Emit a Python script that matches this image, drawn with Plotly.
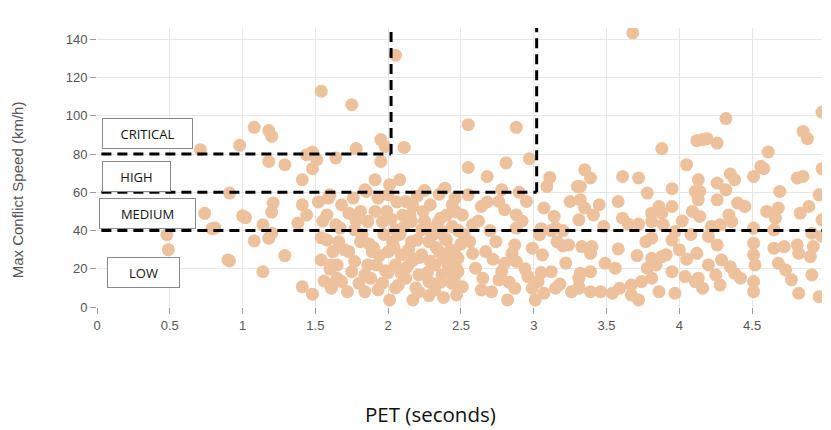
import plotly.graph_objects as go

# ---------------------------------------------------------------------------
# data (PET in seconds, max conflict speed in km/h)
# ---------------------------------------------------------------------------
pet_low_range = [0.71, 0.74, 0.79, 0.48, 0.49, 0.90, 1.00, 0.81,
                 1.54, 1.08, 1.18, 1.20, 0.98, 1.18, 1.29, 1.48, 1.44, 1.51,
                 1.48, 1.41, 1.64, 0.91, 1.21, 1.20, 1.41, 1.44, 1.38, 1.02,
                 1.14, 1.08, 1.18, 1.20, 0.91, 1.29, 1.14, 1.41, 1.48, 1.54,
                 1.56, 1.61, 1.62, 1.59, 1.58, 1.64, 1.54, 1.61,
                 1.52, 1.55, 1.58, 1.60, 1.62]
speed_low_range = [82.3, 49.0, 41.0, 37.8, 30.0, 24.6, 47.7, 41.4,
                   112.9, 94.0, 92.3, 89.3, 84.6, 76.2, 74.5, 81.1, 79.7, 77.1,
                   72.4, 66.6, 78.0, 59.6, 54.4, 49.7, 53.5, 48.2, 43.9, 46.8,
                   43.0, 34.6, 36.0, 38.6, 24.1, 26.9, 18.5, 10.6, 6.7, 24.6,
                   13.6, 9.8, 29.0, 57.0, 48.2, 43.0, 36.2, 22.0,
                   55.0, 45.0, 35.0, 20.0, 12.0]

pet_mid_range = [2.05, 1.75, 1.78, 1.95, 1.98, 2.11, 1.95, 1.91, 2.08, 2.01,
                 2.39, 1.84, 1.68, 1.76, 1.85, 1.93, 2.00, 2.12, 2.17, 2.29,
                 2.44, 1.73, 1.81, 1.91, 1.99, 1.86, 1.96, 2.16, 2.36, 1.67,
                 1.77, 2.05, 2.23, 2.44, 1.66, 1.81, 2.03, 2.16, 2.28, 2.39,
                 1.73, 1.89, 2.00, 2.09, 2.23, 2.35, 2.46, 1.65, 1.77, 1.86,
                 2.05, 2.16, 2.32, 2.41, 1.75, 1.84, 2.09, 2.21, 2.37, 1.68,
                 1.80, 1.96, 2.07, 2.28, 2.44, 1.84, 2.01, 2.17, 2.21, 2.32,
                 2.47, 2.25, 2.30, 2.33, 2.38, 2.42, 2.45, 2.40, 2.48, 2.27,
                 2.31, 2.12, 2.14, 2.08, 2.10, 2.20, 2.25, 2.35, 2.02, 1.97,
                 1.92, 1.88, 1.82, 1.78, 1.70, 1.65, 1.72, 2.05, 2.50, 2.46,
                 2.38, 2.28, 2.20, 2.00, 1.60, 1.90, 2.18, 2.36,
                 2.22, 2.26, 2.34, 2.43, 2.13, 2.04, 1.94, 1.87, 2.19, 2.29,
                 2.40, 2.11, 1.98, 2.24, 2.36, 2.47, 1.93, 2.06, 2.15, 2.31]
speed_mid_range = [131.8, 105.9, 82.9, 87.6, 84.0, 83.5, 76.2, 66.6, 66.6, 64.0,
                   62.2, 61.3, 53.5, 57.0, 60.5, 57.0, 58.7, 55.2, 52.6, 53.5,
                   53.5, 49.1, 50.0, 50.0, 50.0, 44.7, 44.7, 44.7, 46.5, 41.3,
                   40.4, 40.4, 40.4, 42.1, 34.2, 34.2, 34.2, 34.2, 34.2, 36.0,
                   29.0, 29.0, 29.0, 27.3, 27.3, 29.0, 27.3, 22.0, 23.8, 22.0,
                   22.0, 23.8, 22.0, 22.0, 18.5, 16.8, 17.7, 16.8, 16.8, 13.3,
                   12.4, 12.4, 11.5, 13.3, 12.4, 8.0, 3.7, 3.7, 8.0, 8.9,
                   6.3, 45.0, 38.0, 31.0, 25.0, 19.0, 15.0, 48.0, 40.0, 18.0,
                   12.0, 15.0, 30.0, 38.0, 48.0, 58.0, 61.0, 59.0, 46.0, 38.0,
                   22.0, 15.0, 38.0, 45.0, 30.0, 15.0, 8.0, 10.0, 33.0, 50.0,
                   5.0, 6.0, 35.0, 18.0, 58.7, 31.0, 25.0, 40.0,
                   26.0, 42.0, 44.0, 30.0, 21.0, 31.0, 27.0, 33.0, 10.0, 24.0,
                   35.0, 42.0, 19.0, 50.0, 13.0, 20.0, 9.0, 55.0, 48.0, 38.0]

pet_high_range = [2.55, 2.88, 2.55, 2.68, 2.81, 2.97, 3.11, 3.09, 3.30, 2.78,
                  2.55, 2.46, 2.76, 2.95, 2.64, 2.80, 2.88, 3.07, 3.14, 3.25,
                  2.51, 2.58, 2.88, 3.15, 3.04, 3.24, 3.16, 2.56, 2.74, 2.87,
                  2.67, 2.99, 3.06, 2.48, 2.60, 2.80, 2.88, 2.48, 2.78, 3.12,
                  2.76, 2.96, 3.03, 3.31, 2.51, 2.64, 2.71, 2.87, 2.99, 3.07,
                  3.15, 2.82, 3.01, 3.31, 2.52, 2.62, 2.70, 2.72, 2.65, 2.85,
                  2.92, 2.94, 2.58, 2.68, 2.90, 2.83, 3.05, 3.12, 3.20, 3.22,
                  3.18, 3.26, 3.05, 3.20]
speed_high_range = [95.4, 94.0, 73.0, 68.3, 75.4, 77.6, 67.8, 63.1, 63.1, 61.4,
                    58.7, 57.0, 55.2, 55.2, 52.6, 50.9, 48.2, 51.8, 47.4, 55.2,
                    48.2, 43.0, 41.3, 41.3, 37.8, 32.5, 34.2, 34.2, 34.2, 32.5,
                    29.0, 30.8, 27.3, 25.5, 20.3, 22.9, 23.8, 18.5, 18.5, 18.5,
                    14.2, 15.9, 13.3, 15.1, 10.6, 8.9, 8.0, 9.8, 9.8, 7.2,
                    9.8, 3.7, 3.7, 9.8, 38.0, 45.0, 40.0, 25.0, 15.0, 28.0,
                    45.0, 20.0, 28.0, 55.0, 60.0, 13.0, 41.0, 40.0, 40.0, 23.0,
                    12.0, 8.0, 18.0, 32.0]

pet_right_range = [3.68, 3.88, 4.12, 4.05, 3.35, 3.39, 3.32, 3.61, 3.72, 3.78,
                   3.95, 4.11, 3.32, 3.35, 3.45, 3.58, 3.86, 3.95, 3.81, 3.88,
                   4.09, 3.31, 3.41, 3.61, 3.65, 3.72, 3.81, 3.48, 3.89, 3.97,
                   3.77, 3.81, 3.33, 3.40, 3.58, 3.39, 3.71, 3.81, 3.88, 3.91,
                   3.84, 3.78, 3.49, 3.56, 3.32, 3.39, 3.95, 4.04, 4.11, 3.81,
                   3.74, 3.31, 3.39, 3.46, 3.54, 3.59, 3.67, 3.67, 3.72, 3.86,
                   3.97, 4.00, 4.05, 4.02, 3.95, 4.08,
                   4.98, 4.32, 4.85, 4.88, 4.16, 4.19, 4.26, 4.61, 4.56, 4.58,
                   4.51, 4.98, 4.81, 4.85, 4.35, 4.38, 4.13, 4.26, 4.32, 4.14,
                   4.69, 4.96, 4.13, 4.26, 4.40, 4.45, 4.89, 4.83, 4.60, 4.68,
                   4.14, 4.34, 4.36, 4.28, 4.22, 4.66, 4.98, 4.51, 4.65, 4.91,
                   4.98, 4.20, 4.26, 4.51, 4.65, 4.72, 4.81, 4.92, 4.12, 4.51,
                   4.82, 4.90, 4.20, 4.29, 4.35, 4.52, 4.68, 4.73, 4.13, 4.25,
                   4.38, 4.42, 4.51, 4.77, 4.91, 4.16, 4.28, 4.51, 4.82, 4.96]
speed_right_range = [143.5, 82.9, 87.0, 74.5, 71.8, 67.5, 63.1, 68.3, 67.5, 59.6,
                     61.9, 60.5, 56.1, 51.8, 53.5, 55.2, 52.6, 52.6, 49.1, 49.1,
                     50.0, 45.6, 48.2, 46.5, 43.4, 43.4, 44.7, 42.1, 43.0, 39.5,
                     34.2, 36.0, 31.6, 31.6, 30.4, 28.1, 26.9, 25.5, 26.4, 27.3,
                     22.0, 20.3, 22.9, 20.3, 17.7, 18.5, 18.5, 15.9, 13.3, 15.1,
                     13.3, 10.6, 8.0, 8.0, 7.2, 9.8, 11.5, 6.3, 3.7, 8.0,
                     7.2, 30.0, 25.0, 45.0, 35.0, 38.0,
                     102.0, 98.6, 91.9, 88.1, 87.6, 88.1, 85.8, 81.1, 73.6, 72.4,
                     68.3, 72.4, 67.5, 68.3, 69.6, 66.6, 66.6, 64.9, 61.3, 60.5,
                     60.5, 58.7, 56.1, 56.1, 54.4, 52.6, 52.6, 49.1, 50.0, 51.8,
                     47.4, 48.2, 44.7, 43.0, 42.1, 46.5, 45.6, 41.3, 40.4, 38.6,
                     36.9, 36.9, 32.5, 33.4, 30.8, 31.6, 32.5, 31.6, 28.1, 27.3,
                     28.1, 26.4, 22.0, 24.6, 21.1, 22.0, 22.9, 19.4, 15.1, 16.8,
                     17.7, 15.1, 13.3, 14.2, 16.8, 9.8, 11.5, 8.0, 7.2, 5.4]

pet = pet_low_range + pet_mid_range + pet_high_range + pet_right_range
speed = speed_low_range + speed_mid_range + speed_high_range + speed_right_range

# severity thresholds (speed level, PET where the step ends)
threshold_speed = [40, 60, 80]
threshold_pet_end = [4.98, 3.02, 2.02]

zone_labels = ["CRITICAL", "HIGH", "MEDIUM", "LOW"]
zone_label_x = [0.35, 0.27, 0.35, 0.32]
zone_label_y = [91.0, 68.2, 49.0, 17.8]
zone_label_w = [87, 65, 93, 69]

X_MAX, Y_MAX = 4.98, 146

fig = go.Figure()

fig.add_trace(go.Scatter(
    x=pet, y=speed,
    mode="markers",
    marker=dict(size=13, color="#EDC19C", line=dict(width=0)),
    hoverinfo="x+y",
    showlegend=False,
))

# dashed step boundaries between severity zones
dash_line = dict(color="black", width=3, dash="10px,6px")
for lvl, end in zip(threshold_speed, threshold_pet_end):
    fig.add_shape(type="line", x0=0.03, x1=end, y0=lvl, y1=lvl,
                  line=dash_line, layer="above")
    if end < X_MAX:
        fig.add_shape(type="line", x0=end, x1=end, y0=lvl, y1=Y_MAX,
                      line=dash_line, layer="above")

for txt, lx, ly, w in zip(zone_labels, zone_label_x, zone_label_y, zone_label_w):
    fig.add_annotation(
        x=lx, y=ly, text=txt, showarrow=False,
        width=w, height=27,
        bgcolor="white", bordercolor="#8a8a8a", borderwidth=1,
        font=dict(family="Open Sans", size=13, color="#111"),
    )

# axis titles placed by hand (page body adds an 8px offset)
fig.add_annotation(
    x=0.46, y=-0.44, xref="paper", yref="paper",
    text="PET (seconds)", showarrow=False,
    font=dict(family="Open Sans", size=20.5, color="#111"),
)
fig.add_annotation(
    x=0, y=0.42, xref="paper", yref="paper", xshift=-90,
    text="Max Conflict Speed (km/h)", textangle=-90, showarrow=False,
    font=dict(family="Liberation Sans", size=15, color="#555"),
)

axis_common = dict(
    showgrid=True, gridcolor="#e6e6e6", gridwidth=1,
    zeroline=False, showline=False,
    ticks="outside", ticklen=6, tickcolor="#9a9a9a",
    tickfont=dict(family="Liberation Sans", size=13, color="#555"),
)

fig.update_xaxes(range=[0, X_MAX], dtick=0.5, tick0=0, **axis_common)
fig.update_yaxes(range=[0, Y_MAX], dtick=20, tick0=0, **axis_common)

fig.update_layout(
    width=823, height=422,
    margin=dict(l=89, r=9, t=20, b=123),
    plot_bgcolor="white", paper_bgcolor="white",
)

fig.write_html("out.html")
